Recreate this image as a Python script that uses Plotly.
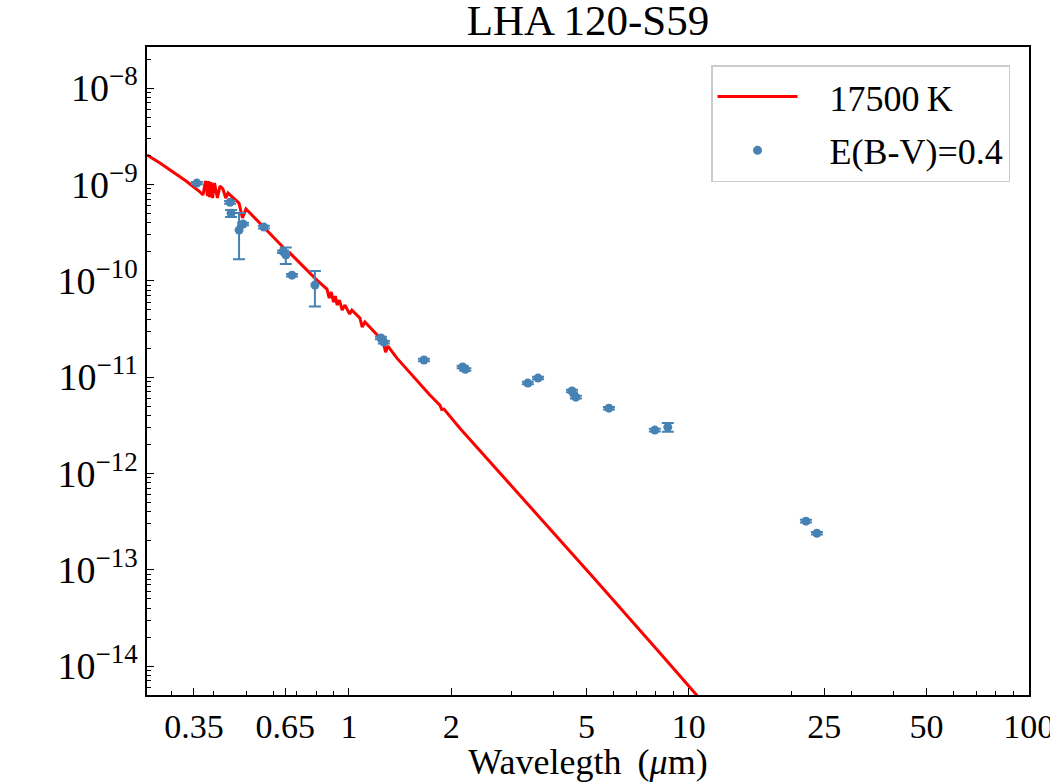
import plotly.graph_objects as go

# ---- model spectrum (17500 K) ----
model_wavelength = [0.2546, 0.2780, 0.3037, 0.3317, 0.3620, 0.3721, 0.3784, 0.3836, 0.3862, 0.3889,
                    0.3928, 0.3970, 0.4022, 0.4102, 0.4175, 0.4260, 0.4340, 0.4406, 0.4748, 0.4861,
                    0.4978, 0.5114, 0.6394, 0.6563, 0.6708, 0.8050, 0.8617, 0.8750, 0.8870, 0.9010,
                    0.9121, 0.9230, 0.9377, 0.9550, 0.9733, 1.0050, 1.0205, 1.0773, 1.0940, 1.1144,
                    1.2589, 1.2820, 1.3024, 1.384, 1.730, 1.852, 1.875, 1.903, 2.12, 3.338,
                    5.22, 8.22, 10.27, 12.33]
model_flux = [2.015e-9, 1.664e-9, 1.341e-9, 1.082e-9, 8.52e-10, 7.74e-10, 1.082e-9, 7.56e-10, 1.082e-9, 7.38e-10,
              1.056e-9, 7.21e-10, 1.031e-9, 7.21e-10, 9.60e-10, 8.94e-10, 7.21e-10, 8.12e-10, 6.39e-10, 4.47e-10,
              5.54e-10, 5.04e-10, 2.233e-10, 1.716e-10, 1.934e-10, 1.014e-10, 8.18e-11, 6.60e-11, 7.61e-11, 5.99e-11,
              6.92e-11, 5.58e-11, 6.29e-11, 4.95e-11, 5.58e-11, 4.50e-11, 4.95e-11, 4.09e-11, 3.30e-11, 3.72e-11,
              2.36e-11, 1.814e-11, 2.094e-11, 1.569e-11, 6.49e-12, 5.11e-12, 4.60e-12, 4.64e-12, 2.94e-12, 4.91e-13,
              8.39e-14, 1.363e-14, 5.56e-15, 2.65e-15]

# ---- photometry, E(B-V)=0.4 ----
obs_wavelength = [0.357, 0.447, 0.450, 0.475, 0.488, 0.562, 0.640, 0.652, 0.680, 0.794,
                  1.242, 1.267, 1.662, 2.16, 2.20, 3.36, 3.60, 4.53, 4.65, 5.82,
                  7.94, 8.67, 22.1, 23.8]
obs_flux = [1.03e-9, 6.5e-10, 5.0e-10, 3.35e-10, 3.87e-10, 3.60e-10, 2.0e-10, 1.85e-10, 1.14e-10, 9.0e-11,
            2.54e-11, 2.30e-11, 1.50e-11, 1.27e-11, 1.20e-11, 8.65e-12, 9.75e-12, 7.15e-12, 6.18e-12, 4.75e-12,
            2.81e-12, 3.02e-12, 3.19e-13, 2.39e-13]
obs_error = [3.0e-11, 2.0e-11, 4.2e-11, 1.68e-10, 1.2e-11, 1.1e-11, 6.0e-12, 3.6e-11, 3.5e-12, 3.6e-11,
             8.0e-13, 7.0e-13, 4.5e-13, 4.0e-13, 3.6e-13, 2.6e-13, 3.0e-13, 2.2e-13, 1.9e-13, 1.4e-13,
             8.5e-14, 3.2e-13, 1.0e-14, 7.0e-15]

# ---- ticks ----
x_tick_values = [0.35, 0.65, 1, 2, 5, 10, 25, 50, 100]
x_tick_labels = ["0.35", "0.65", "1", "2", "5", "10", "25", "50", "100"]
x_minor_values = [0.3, 0.4, 0.5, 0.6, 0.7, 0.8, 0.9, 3, 4, 6, 7, 8, 9, 20, 30, 40, 60, 70, 80, 90]
y_tick_values = [1e-14, 1e-13, 1e-12, 1e-11, 1e-10, 1e-9, 1e-8]
y_tick_exponents = ["\u221214", "\u221213", "\u221212", "\u221211", "\u221210", "\u22129", "\u22128"]
y_tick_labels = ['10<sup><span style="font-size:27px">%s</span></sup>' % e for e in y_tick_exponents]
y_minor_values = [m * 10.0 ** e for e in range(-15, -7) for m in range(2, 10)]

FONT = "Liberation Serif"
NBSP = "\u00a0"

fig = go.Figure()
fig.add_trace(go.Scatter(
    x=model_wavelength, y=model_flux, mode="lines",
    line=dict(color="#ff0000", width=3),
    name=NBSP * 3 + "17500\u2009K", legendgroup="model"))
fig.add_trace(go.Scatter(
    x=obs_wavelength, y=obs_flux, mode="markers",
    marker=dict(color="#4682b4", size=9),
    error_y=dict(type="data", array=obs_error, color="#4682b4", thickness=2, width=6),
    name=NBSP * 3 + "E(B-V)=0.4", legendgroup="obs"))

axis_common = dict(
    showline=True, linecolor="black", linewidth=1.5, mirror=True,
    showgrid=False, zeroline=False, automargin=False,
    ticks="inside", ticklen=7, tickwidth=1.3, tickcolor="black",
    ticklabeloverflow="allow",
)

fig.update_layout(
    width=1050, height=782,
    margin=dict(l=147, r=21, t=47, b=87),
    paper_bgcolor="white", plot_bgcolor="white",
    font=dict(family=FONT, size=34, color="black"),
    title=dict(text="LHA 120-S59", x=0.56, xanchor="center", y=0.974, yanchor="middle",
               font=dict(family=FONT, size=43, color="black")),
    showlegend=True,
    legend=dict(x=0.9785, y=0.972, xanchor="right", yanchor="top",
                bgcolor="white", bordercolor="#cccccc", borderwidth=1.5,
                itemwidth=80, tracegroupgap=4,
                font=dict(family=FONT, size=36, color="black")),
    xaxis=dict(type="log", range=[-0.5941, 2.0006],
               tickmode="array", tickvals=x_tick_values, ticktext=x_tick_labels,
               tickfont=dict(family=FONT, size=34, color="black"),
               minor=dict(tickmode="array", tickvals=x_minor_values, ticks="inside",
                          ticklen=4, tickwidth=1, tickcolor="black", showgrid=False),
               title=dict(text="Wavelegth\u2009 (<i>\u03bc</i>m)", standoff=10,
                          font=dict(family=FONT, size=36, color="black")),
               **axis_common),
    yaxis=dict(type="log", range=[-14.301, -7.5744],
               tickmode="array", tickvals=y_tick_values, ticktext=y_tick_labels,
               tickfont=dict(family=FONT, size=38, color="black"),
               minor=dict(tickmode="array", tickvals=y_minor_values, ticks="inside",
                          ticklen=4, tickwidth=1, tickcolor="black", showgrid=False),
               **axis_common),
)

fig.write_html("out.html")
